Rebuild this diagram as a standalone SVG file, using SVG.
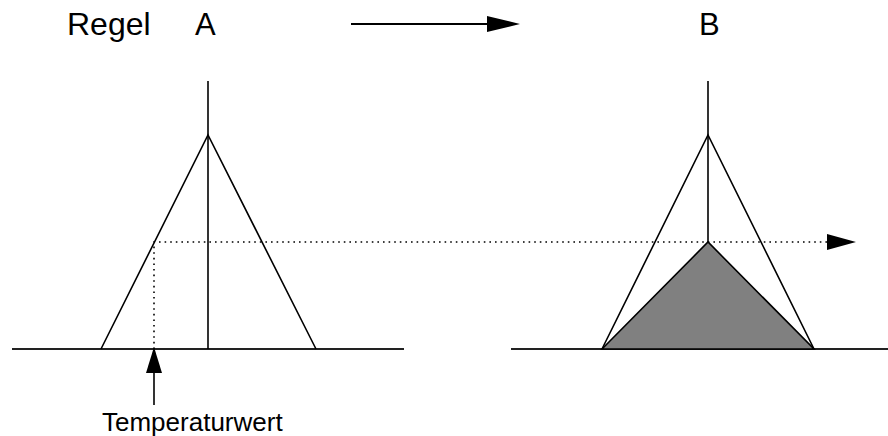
<svg xmlns="http://www.w3.org/2000/svg" width="888" height="436" viewBox="0 0 888 436">
<style>
.t{font-family:"Liberation Sans",Arial,sans-serif;fill:#000}
.ln{stroke:#000;stroke-width:1.6;fill:none}
.base{stroke:#222;stroke-width:2;fill:none}
.dot{stroke:#000;stroke-width:1.6;fill:none;stroke-dasharray:1.6 4}
</style>
<rect width="888" height="436" fill="#fff"/>
<g id="labels">
<text class="t" x="67" y="35" font-size="32">Regel</text>
<text class="t" x="195" y="35" font-size="31">A</text>
<text class="t" x="699" y="35" font-size="31">B</text>
<text class="t" x="102" y="431" font-size="26">Temperaturwert</text>
</g>
<g id="setA">
<line class="base" x1="12" y1="349" x2="404" y2="349"/>
<line class="ln" x1="208" y1="81" x2="208" y2="349"/>
<polyline class="ln" points="101,349 208,135 316,349"/>
</g>
<g id="setB">
<line class="base" x1="511" y1="349" x2="888" y2="349"/>
<polygon points="602,349 708,242 814,349" fill="#808080" stroke="#000" stroke-width="1.6"/>
<line class="ln" x1="708" y1="81" x2="708" y2="242"/>
<polyline class="ln" points="602,349 708,135 814,349"/>
</g>
<g id="connectors">
<line x1="351" y1="24" x2="490" y2="24" stroke="#000" stroke-width="2.2"/>
<polygon points="487,16 520,24 487,32" fill="#000"/>
<polyline class="dot" points="154,349 154,242 830,242"/>
<polygon points="827,234 856,242 827,250" fill="#000"/>
<line class="ln" x1="154" y1="405" x2="154" y2="370"/>
<polygon points="146,373 154,347 162,373" fill="#000"/>
</g>
</svg>
